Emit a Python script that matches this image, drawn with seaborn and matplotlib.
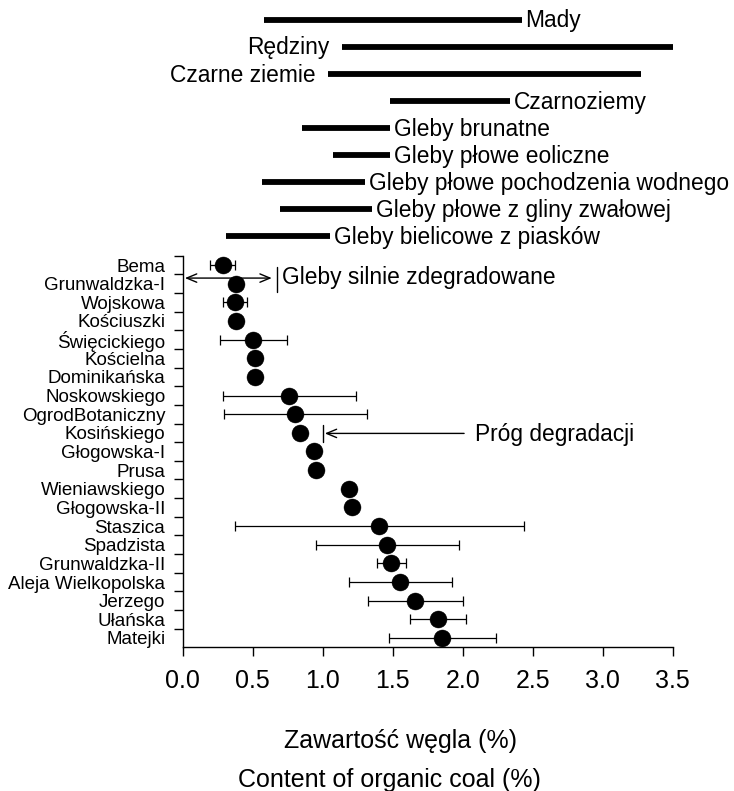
import numpy as np
import pandas as pd
import matplotlib
matplotlib.use("Agg")
import matplotlib.pyplot as plt
import seaborn as sns

# ---------------- data ----------------
sites = ["Bema", "Grunwaldzka-I", "Wojskowa", "Kościuszki", "Święcickiego",
         "Kościelna", "Dominikańska", "Noskowskiego", "OgrodBotaniczny",
         "Kosińskiego", "Głogowska-I", "Prusa", "Wieniawskiego", "Głogowska-II",
         "Staszica", "Spadzista", "Grunwaldzka-II", "Aleja Wielkopolska",
         "Jerzego", "Ułańska", "Matejki"]
carbon_mean = [0.285, 0.38, 0.375, 0.38, 0.505, 0.515, 0.515, 0.76, 0.805,
               0.84, 0.935, 0.955, 1.185, 1.21, 1.405, 1.46, 1.49, 1.555,
               1.66, 1.825, 1.855]
carbon_sd = [0.09, 0.0, 0.087, 0.0, 0.24, 0.0, 0.0, 0.475, 0.51, 0.0, 0.0,
             0.0, 0.0, 0.0, 1.03, 0.51, 0.105, 0.37, 0.34, 0.2, 0.38]

soil_types = ["Mady", "Rędziny", "Czarne ziemie", "Czarnoziemy",
              "Gleby brunatne", "Gleby płowe eoliczne",
              "Gleby płowe pochodzenia wodnego",
              "Gleby płowe z gliny zwałowej", "Gleby bielicowe z piasków"]
soil_min = [0.58, 1.135, 1.04, 1.48, 0.855, 1.075, 0.565, 0.695, 0.31]
soil_max = [2.42, 3.5, 3.27, 2.34, 1.48, 1.48, 1.30, 1.355, 1.05]
soil_label_side = ["right", "left", "left", "right", "right", "right",
                   "right", "right", "right"]

strong_degradation_limit = 0.67
degradation_threshold = 1.0
x_ticks = [0.0, 0.5, 1.0, 1.5, 2.0, 2.5, 3.0, 3.5]

# ---------------- style ----------------
sns.set_style("ticks")
plt.rcParams["font.family"] = ["Liberation Sans", "DejaVu Sans"]
plt.rcParams.update({
    "axes.linewidth": 1.0,
    "text.color": "black",
    "axes.labelcolor": "black",
    "axes.edgecolor": "black",
    "xtick.color": "black",
    "ytick.color": "black",
})

W_PX, H_PX = 734, 791
fig = plt.figure(figsize=(W_PX / 100, H_PX / 100), dpi=100)

ax_l, ax_r = 182.7, 672.7
ax_t, ax_b = 255.7, 647.3
ax = fig.add_axes([ax_l / W_PX, 1 - ax_b / H_PX,
                   (ax_r - ax_l) / W_PX, (ax_b - ax_t) / H_PX])
ax_top = fig.add_axes([ax_l / W_PX, 1 - ax_t / H_PX,
                       (ax_r - ax_l) / W_PX, ax_t / H_PX], sharex=ax)

# ---------------- main dot plot ----------------
df = pd.DataFrame({"site": sites, "carbon": carbon_mean, "sd": carbon_sd})
df["pos"] = np.arange(len(df))

has_err = df["sd"] > 0
ax.errorbar(df.loc[has_err, "carbon"], df.loc[has_err, "pos"],
            xerr=df.loc[has_err, "sd"], fmt="none", ecolor="black",
            elinewidth=0.9, capsize=3.6, capthick=0.9, zorder=2)
sns.scatterplot(data=df, x="carbon", y="pos", color="black", s=150,
                edgecolor="black", linewidth=0.3, ax=ax, zorder=3,
                legend=False)

ax.set_xlabel("")
ax.set_ylabel("")
ax.set_xlim(0, 3.5)
ax.set_ylim(len(df) - 0.5, -0.5)
ax.set_xticks(x_ticks, labels=[f"{v:.1f}" for v in x_ticks])
ax.set_yticks(df["pos"], labels=df["site"])
ax.set_yticks(np.arange(-0.5, len(df) - 1, 1.0), minor=True)
ax.tick_params(axis="x", which="major", direction="out", length=6.3,
               width=1.0, pad=9.6, labelsize=18, color="black",
               labelcolor="black")
ax.tick_params(axis="y", which="major", length=0, pad=12.5, labelsize=13.5,
               labelcolor="black")
ax.tick_params(axis="y", which="minor", direction="out", length=6.7,
               width=1.0, color="black")
ax.tick_params(axis="x", which="minor", length=0)
for s in ["top", "right"]:
    ax.spines[s].set_visible(False)
for s in ["left", "bottom"]:
    ax.spines[s].set_color("black")

# annotation: strongly degraded soils
ax.annotate("", xy=(0.016, 0.7), xytext=(strong_degradation_limit - 0.034, 0.7),
            arrowprops=dict(arrowstyle="<->,head_length=0.6,head_width=0.25",
                            lw=1.0, color="black", shrinkA=0, shrinkB=0,
                            mutation_scale=12))
ax.plot([strong_degradation_limit] * 2, [0.09, 1.43], color="black", lw=1.0,
        clip_on=False)
ax.text(strong_degradation_limit + 0.041, 1.035, "Gleby silnie zdegradowane",
        fontsize=16.4, ha="left", va="baseline", color="black")

# annotation: degradation threshold
ax.plot([degradation_threshold] * 2, [8.58, 9.5], color="black", lw=1.0)
ax.annotate("", xy=(degradation_threshold + 0.015, 9.03), xytext=(2.01, 9.03),
            arrowprops=dict(arrowstyle="->,head_length=0.6,head_width=0.25",
                            lw=1.0, color="black", shrinkA=0, shrinkB=0,
                            mutation_scale=12))
ax.text(2.087, 9.44, "Próg degradacji", fontsize=16.4, ha="left",
        va="baseline", color="black")

# ---------------- soil-type ranges above ----------------
row_top, row_step = 19.6, 27.1
ax_top.set_ylim((ax_t - row_top) / row_step, -row_top / row_step)
ax_top.axis("off")
for i, (name, lo, hi, side) in enumerate(zip(soil_types, soil_min, soil_max,
                                             soil_label_side)):
    ax_top.plot([lo, hi], [i, i], color="black", lw=4.2,
                solid_capstyle="butt", clip_on=False)
    if side == "right":
        ax_top.annotate(name, xy=(hi, i), xytext=(2.8, -5.6),
                        textcoords="offset points", ha="left", va="baseline",
                        fontsize=16.4, annotation_clip=False, color="black")
    else:
        ax_top.annotate(name, xy=(lo, i), xytext=(-9.0, -5.6),
                        textcoords="offset points", ha="right", va="baseline",
                        fontsize=16.4, annotation_clip=False, color="black")

# ---------------- axis title lines ----------------
fig.text(400.8 / W_PX, 1 - 748.3 / H_PX, "Zawartość węgla (%)", fontsize=18,
         ha="center", va="baseline", color="black")
fig.text(389 / W_PX, 1 - 786.5 / H_PX, "Content of organic coal (%)",
         fontsize=18, ha="center", va="baseline", color="black")

fig.savefig("out.png", dpi=100)
